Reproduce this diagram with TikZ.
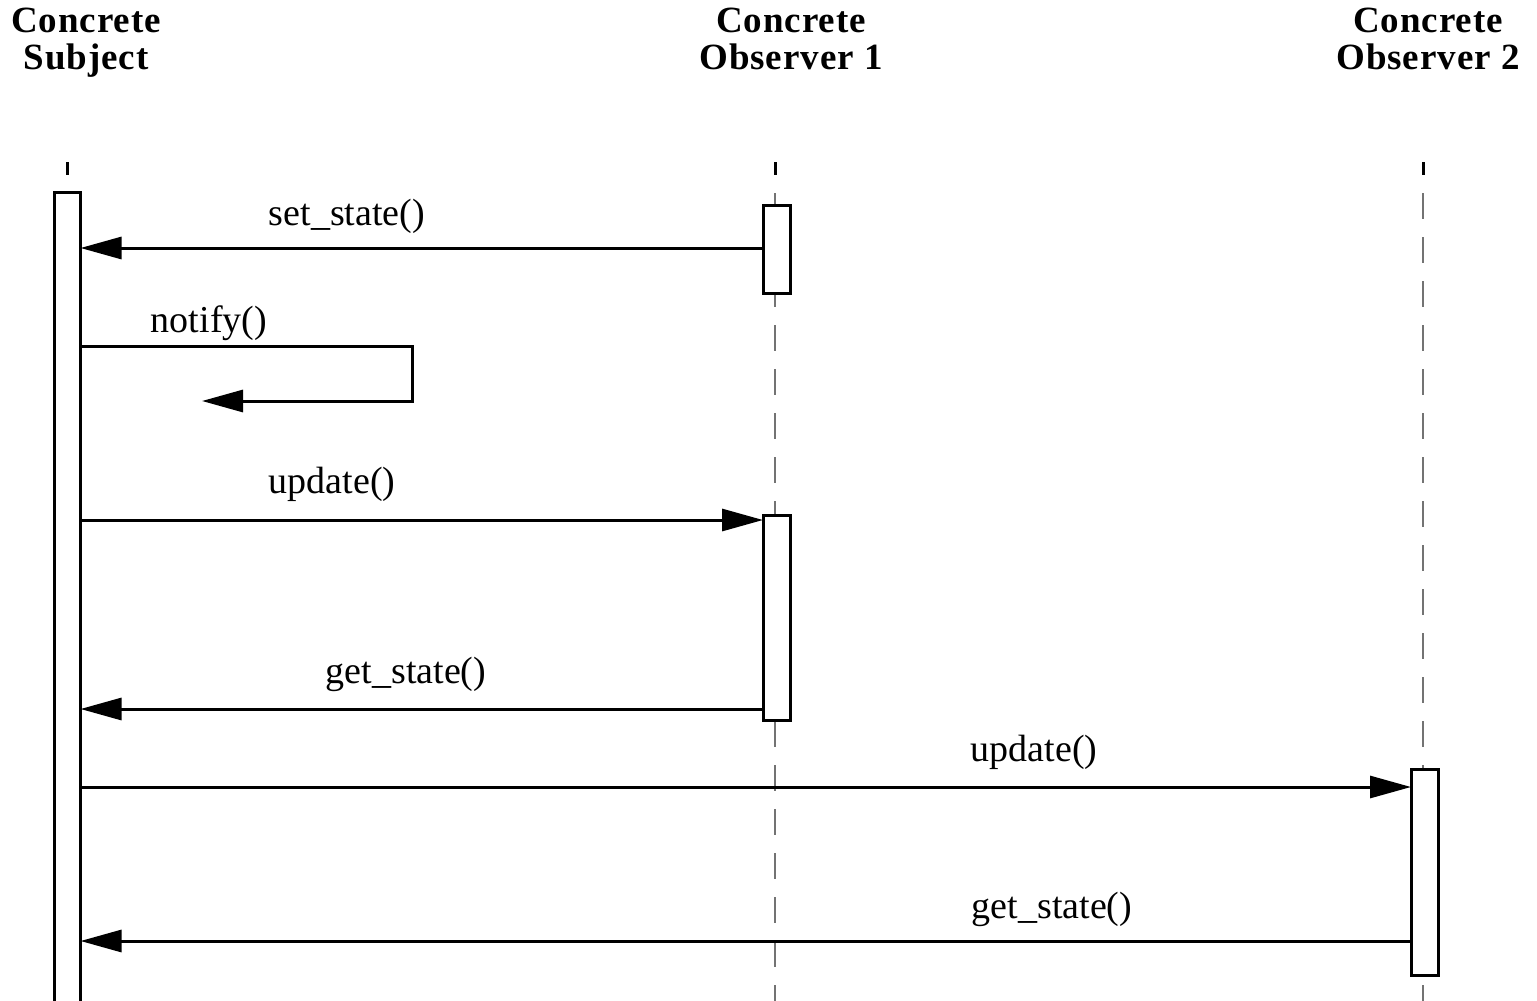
\documentclass[tikz,border=0pt]{standalone}
\usepackage{fontspec}
\setmainfont{Liberation Serif}
\newfontfamily\headfont[LetterSpace=2.5]{Liberation Serif}
\usetikzlibrary{arrows.meta}
\begin{document}
\begin{tikzpicture}[x=1pt,y=-1pt,
  lifeline/.style={draw=black!55, line width=1.5pt, dash pattern=on 26pt off 18pt},
  lifetick/.style={line width=3pt},
  actbox/.style={draw, fill=white, line width=3pt, minimum width=27pt, inner sep=0pt, outer sep=0pt},
  msg/.style={line width=3pt, -{Triangle[length=41pt,width=22pt]}},
  msglabel/.style={anchor=base, font=\fontsize{38}{40}\selectfont, inner sep=0pt},
  header/.style={align=center, font=\headfont\bfseries\fontsize{37}{37}\selectfont, inner sep=0pt, anchor=north}]
\useasboundingbox (0,0) rectangle (1537,1001);

% participants
\node[header] (hsubj) at (86,8) {Concrete\\Subject};
\node[header] (hobs1) at (791,8) {Concrete\\Observer 1};
\node[header] (hobs2) at (1428,8) {Concrete\\Observer 2};

% lifeline marks and dashed lifelines
\draw[lifetick] (67,162) -- (67,175);
\draw[lifetick] (775,162) -- (775,175);
\draw[lifetick] (1423,162) -- (1423,175);
\coordinate (l1top) at (775,193);
\coordinate (l1bot) at (775,1001);
\coordinate (l2top) at (1423,193);
\coordinate (l2bot) at (1423,1001);
\draw[lifeline] (l1top) -- (l1bot);
\draw[lifeline] (l2top) -- (l2bot);

% activation bars
\node[actbox, minimum width=26.5pt, minimum height=820pt] (subj) at (67.25,602) {};
\node[actbox, minimum height=88pt] (act1) at (776.5,249) {};
\node[actbox, minimum height=205pt] (act2) at (776.5,617.5) {};
\node[actbox, minimum height=206pt] (act3) at (1424.5,872) {};

% message heights
\coordinate (y1) at (0,248);
\coordinate (y2) at (0,346);
\coordinate (y3) at (0,520);
\coordinate (y4) at (0,709);
\coordinate (y5) at (0,787);
\coordinate (y6) at (0,941);
\coordinate (selfturn) at (412,401);
\coordinate (selfend) at (202,401);

% messages
\draw[msg] (act1.west |- y1) -- (subj.east |- y1);
\draw[msg] (subj.east |- y2) -| (selfturn) -- (selfend);
\draw[msg] (subj.east |- y3) -- (act2.west |- y3);
\draw[msg] (act2.west |- y4) -- (subj.east |- y4);
\draw[msg] (subj.east |- y5) -- (act3.west |- y5);
\draw[msg] (act3.west |- y6) -- (subj.east |- y6);

% message labels
\node[msglabel] (t1) at (347,225) {set\_state()};
\node[msglabel] (t2) at (209,332) {notify()};
\node[msglabel] (t3) at (332,493) {update()};
\node[msglabel] (t4) at (406,683) {get\_state()};
\node[msglabel] (t5) at (1034,761) {update()};
\node[msglabel] (t6) at (1052,918) {get\_state()};
\end{tikzpicture}
\end{document}
